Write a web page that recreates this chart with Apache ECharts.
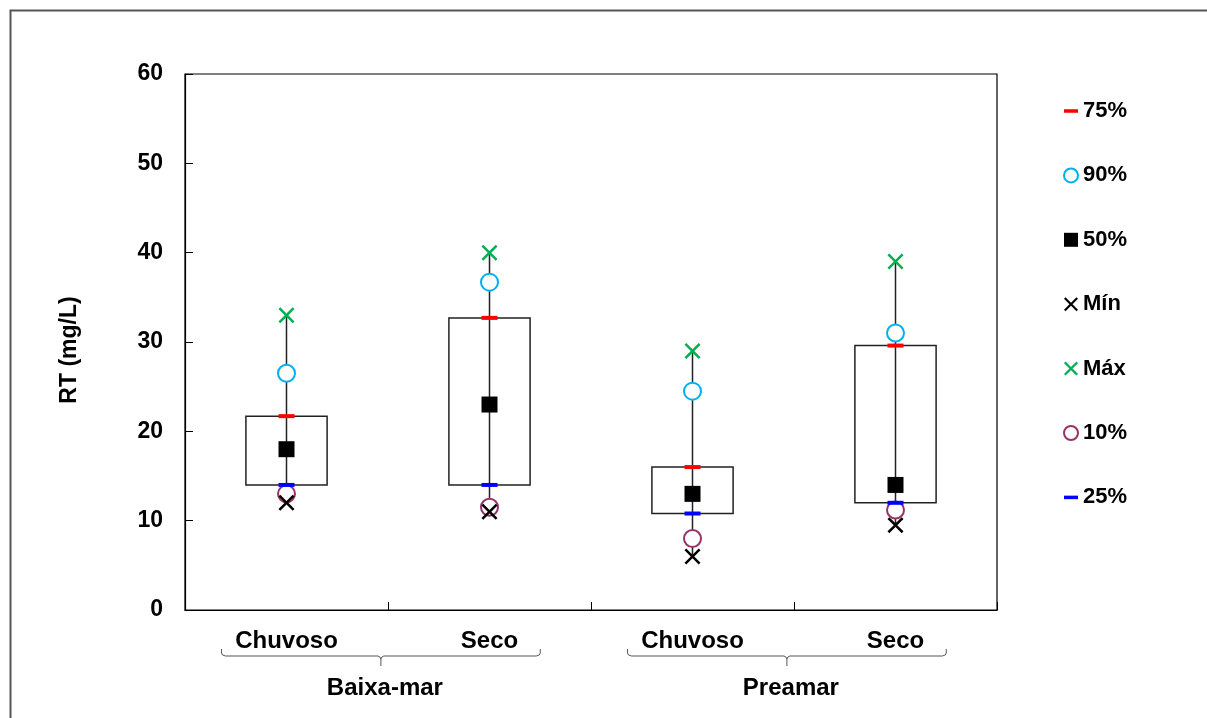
<!DOCTYPE html>
<html>
<head>
<meta charset="utf-8">
<script src="https://cdn.jsdelivr.net/npm/echarts@6/dist/echarts.min.js"></script>
<style>
html,body{margin:0;padding:0;background:#fff;}
#chart{width:1207px;height:718px;}
</style>
</head>
<body>
<div id="chart"></div>
<script>
// ---- data ----
const categories = ['Chuvoso', 'Seco', 'Chuvoso', 'Seco'];
const groups = ['Baixa-mar', 'Preamar'];
const groupMembers = [[0, 1], [2, 3]];
const yTicks = [0, 10, 20, 30, 40, 50, 60];
const minV = [12, 11, 6, 9.5];
const p10 = [13, 11.5, 8, 11.2];
const p25 = [14, 14, 10.8, 12];
const p50 = [18, 23, 13, 14];
const p75 = [21.7, 32.7, 16, 29.6];
const p90 = [26.5, 36.7, 24.5, 31];
const maxV = [33, 40, 29, 39];

const FONT = '"Liberation Sans", Arial, sans-serif';
const xPath = 'path://M0,11L11,0L50,39L89,0L100,11L61,50L100,89L89,100L50,61L11,100L0,89L39,50Z';
const dashPath = 'path://M0,0H14V3.5H0Z';

const chart = echarts.init(document.getElementById('chart'), null, {renderer: 'canvas'});

function pts(arr) { return arr.map((v, i) => [i, v]); }

const boxData = categories.map((c, i) => [i, minV[i], p25[i], p75[i], maxV[i]]);

const option = {
  animation: false,
  backgroundColor: '#fff',
  grid: {left: 185, right: 210, top: 74, bottom: 108, show: true, borderColor: '#000', borderWidth: 1.2, backgroundColor: 'transparent'},
  legend: {
    orient: 'vertical', left: 1058, top: 95,
    itemWidth: 14, itemHeight: 14, itemGap: 44.7 - 2.3,
    padding: 5,
    itemStyle: {opacity: 1},
    textStyle: {fontFamily: FONT, fontWeight: 'bold', fontSize: 22, color: '#000', lineHeight: 20},
    data: [
      {name: '75%', icon: dashPath},
      {name: '90%', icon: 'emptyCircle'},
      {name: '50%', icon: 'rect'},
      {name: 'Mín', icon: xPath},
      {name: 'Máx', icon: xPath},
      {name: '10%', icon: 'emptyCircle'},
      {name: '25%', icon: dashPath}
    ]
  },
  xAxis: {
    type: 'category', data: categories,
    axisLine: {show: true, lineStyle: {color: '#000', width: 1.2}},
    axisTick: {show: true, inside: true, length: 8, alignWithLabel: false, lineStyle: {color: '#000'}},
    axisLabel: {fontFamily: FONT, fontWeight: 'bold', fontSize: 24, color: '#000', margin: 19},
    splitLine: {show: false}
  },
  yAxis: {
    type: 'value', min: 0, max: 60, interval: 10,
    name: 'RT (mg/L)', nameLocation: 'middle', nameGap: 104, nameRotate: 90,
    nameTextStyle: {fontFamily: FONT, fontWeight: 'bold', fontSize: 23, color: '#000', padding: [0, 16, 0, 0]},
    axisLine: {show: true, lineStyle: {color: '#000', width: 1.2}},
    axisTick: {show: true, inside: true, length: 8, lineStyle: {color: '#000'}},
    axisLabel: {fontFamily: FONT, fontWeight: 'bold', fontSize: 23, color: '#000', margin: 22,
      formatter: v => yTicks.includes(v) ? String(v) : ''},
    splitLine: {show: false}
  },
  series: [
    {
      type: 'custom', name: 'box', z: 1,
      data: boxData,
      encode: {x: 0, y: [1, 2, 3, 4]},
      renderItem: function (params, api) {
        const x = api.value(0);
        const pMin = api.coord([x, api.value(1)]);
        const pQ1 = api.coord([x, api.value(2)]);
        const pQ3 = api.coord([x, api.value(3)]);
        const pMax = api.coord([x, api.value(4)]);
        const bw = api.size([1, 0])[0] * 0.4;
        return {
          type: 'group',
          children: [
            {type: 'rect', shape: {x: pQ1[0] - bw / 2, y: pQ3[1], width: bw, height: pQ1[1] - pQ3[1]},
              style: {fill: 'none', stroke: '#222', lineWidth: 1.5}},
            {type: 'line', shape: {x1: pMin[0], y1: pMin[1], x2: pMax[0], y2: pMax[1]},
              style: {stroke: '#222', lineWidth: 1.5}}
          ]
        };
      }
    },
    {name: '90%', type: 'scatter', data: pts(p90), symbol: 'emptyCircle', symbolSize: 17,
      itemStyle: {color: '#00B0F0', borderColor: '#00B0F0', borderWidth: 2.5, opacity: 1}, z: 3},
    {name: '10%', type: 'scatter', data: pts(p10), symbol: 'emptyCircle', symbolSize: 17,
      itemStyle: {color: '#993366', borderColor: '#993366', borderWidth: 2.5, opacity: 1}, z: 3},
    {name: '50%', type: 'scatter', data: pts(p50), symbol: 'rect', symbolSize: 16,
      itemStyle: {color: '#000', opacity: 1}, z: 3},
    {name: 'Mín', type: 'scatter', data: pts(minV), symbol: xPath, symbolSize: 16,
      itemStyle: {color: '#000', opacity: 1}, z: 4},
    {name: 'Máx', type: 'scatter', data: pts(maxV), symbol: xPath, symbolSize: 16,
      itemStyle: {color: '#00B050', opacity: 1}, z: 4},
    {name: '75%', type: 'scatter', data: pts(p75), symbol: 'rect', symbolSize: [16, 4],
      itemStyle: {color: '#FF0000', opacity: 1}, z: 5},
    {name: '25%', type: 'scatter', data: pts(p25), symbol: 'rect', symbolSize: [16, 4],
      itemStyle: {color: '#0000FF', opacity: 1}, z: 5}
  ]
};
chart.setOption(option);

// group brackets and labels placed from the axis scale
const band = chart.convertToPixel({xAxisIndex: 0}, 1) - chart.convertToPixel({xAxisIndex: 0}, 0);
const yBase = chart.convertToPixel({yAxisIndex: 0}, 0);
const graphics = [
  {type: 'rect', left: 8, top: 8, silent: true, shape: {x: 0, y: 0, width: 1400, height: 900},
    style: {fill: 'none', stroke: '#555', lineWidth: 2}}
];
groups.forEach((g, gi) => {
  const a = chart.convertToPixel({xAxisIndex: 0}, groupMembers[gi][0]);
  const b = chart.convertToPixel({xAxisIndex: 0}, groupMembers[gi][1]);
  const L = a - band * 0.32;
  const R = b + band * 0.25;
  const C = (L + R) / 2;
  const y1 = yBase + 39, y2 = yBase + 46, y3 = yBase + 56;
  graphics.push({type: 'polyline', silent: true,
    shape: {points: [[L, y1], [L, y2 - 3], [L + 1, y2 - 1], [L + 4, y2], [C - 3, y2], [C - 1, y2 + 1], [C, y2 + 3], [C, y3]]},
    style: {stroke: '#555', lineWidth: 1, fill: 'none'}});
  graphics.push({type: 'polyline', silent: true,
    shape: {points: [[C, y2 + 3], [C + 1, y2 + 1], [C + 3, y2], [R - 4, y2], [R - 1, y2 - 1], [R, y2 - 3], [R, y1]]},
    style: {stroke: '#555', lineWidth: 1, fill: 'none'}});
  graphics.push({type: 'text', silent: true, x: C + 4, y: yBase + 78,
    style: {text: g, fontFamily: FONT, fontWeight: 'bold', fontSize: 24, fill: '#000',
      textAlign: 'center', textVerticalAlign: 'middle'}});
});
chart.setOption({graphic: graphics});
</script>
</body>
</html>
